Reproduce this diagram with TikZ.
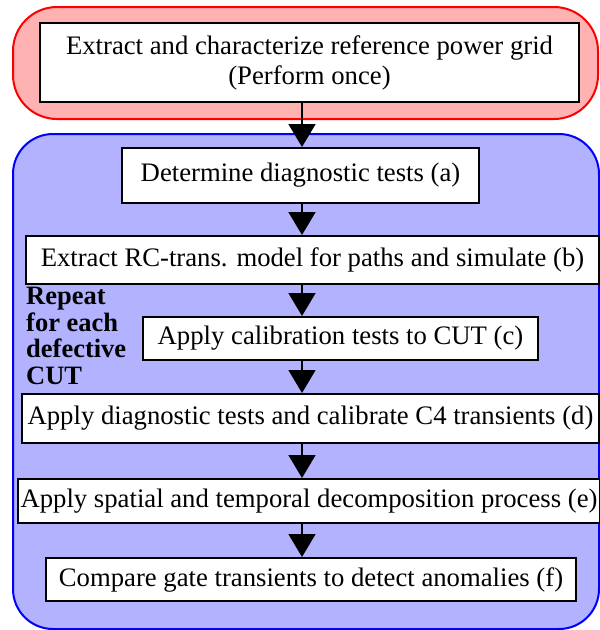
\documentclass[tikz,border=0pt]{standalone}
\usepackage{fontspec}
\setmainfont{Liberation Serif}
\usetikzlibrary{arrows.meta,shapes}
\definecolor{onceFill}{RGB}{255,178,178}
\definecolor{loopFill}{RGB}{178,178,255}
\tikzstyle{stepbox}=[draw=black,fill=white,line width=2pt,inner sep=0pt,align=center,font=\fontsize{26.7}{30}\selectfont]
\tikzstyle{arrow}=[draw,line width=1.8pt,-{Triangle[width=27pt,length=23pt]}]
\tikzstyle{region}=[line width=2pt,rounded corners=44pt]
\tikzstyle{repeat label}=[align=left,inner sep=0pt,font=\bfseries\fontsize{26.5}{26.7}\selectfont]

\begin{document}
\begin{tikzpicture}[x=1pt,y=-1pt]
    \useasboundingbox (0,0) rectangle (600,630);
    % once-only part and per-CUT loop
    \draw[region,draw=red,fill=onceFill] (13,7) rectangle (598,119);
    \draw[region,draw=blue,fill=loopFill,rounded corners=40pt] (13,134) rectangle (599,629);
    \node[stepbox,minimum width=539pt,minimum height=79pt] (grid) at (309.5,62.5)
        {Extract and characterize reference power grid\\(Perform once)};
    \foreach \pos/\w/\h/\name/\txt in {{(300.5,175.5)/357/55/a/Determine diagnostic tests (a)},
        {(312.5,260)/573/48/b/Extract RC-trans. model for paths and simulate (b)},
        {(340.5,338.5)/395/43/c/Apply calibration tests to CUT (c)},
        {(310.5,418.5)/577/49/d/Apply diagnostic tests and calibrate C4 transients (d)},
        {(309,501)/582/44/e/Apply spatial and temporal decomposition process (e)},
        {(311,579.5)/530/43/f/Compare gate transients to detect anomalies (f)}}
        \node[stepbox,minimum width=\w pt,minimum height=\h pt] (\name) at \pos {\txt};
    \coordinate (axis) at (302,0);
    \foreach \src/\dst in {grid/a,a/b,b/c,c/d,d/e,e/f}
        \path[arrow] (\src.south -| axis) -- (\dst.north -| axis);
    \node[repeat label,anchor=north west] (repeat) at (26,287) {Repeat\\for each\\defective\\CUT};
\end{tikzpicture}
\end{document}
